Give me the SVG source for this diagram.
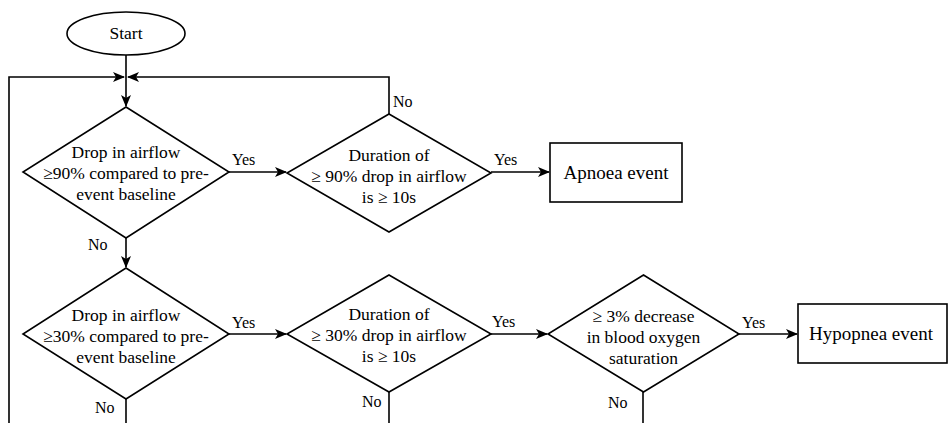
<svg xmlns="http://www.w3.org/2000/svg" width="948" height="423" viewBox="0 0 948 423">
  <defs>
    <marker id="arrow" viewBox="0 0 12 10" refX="11" refY="5" markerWidth="12" markerHeight="10" markerUnits="userSpaceOnUse" orient="auto">
      <path d="M0,0 L12,5 L0,10 L3,5 z" fill="#000000"/>
    </marker>
  </defs>

  <rect width="948" height="423" fill="#ffffff"/>

  <!-- connectors and their Yes/No labels -->
  <g id="connectors" fill="none" stroke="#000000" stroke-width="1.6">
    <path d="M126,55 L126,106" marker-end="url(#arrow)"/>
    <path d="M9,423 L9,77 L124,77" marker-end="url(#arrow)"/>
    <path d="M389,114 L389,77 L128,77" marker-end="url(#arrow)"/>
    <path d="M229,172 L286,172" marker-end="url(#arrow)"/>
    <path d="M491,172 L549,172" marker-end="url(#arrow)"/>
    <path d="M126,238 L126,267" marker-end="url(#arrow)"/>
    <path d="M126,399 L126,423"/>
    <path d="M229,334 L286,334" marker-end="url(#arrow)"/>
    <path d="M389,392 L389,423"/>
    <path d="M491,334 L547,334" marker-end="url(#arrow)"/>
    <path d="M643,392 L643,423"/>
    <path d="M739,334 L797,334" marker-end="url(#arrow)"/>
  </g>
  <g id="connector-labels" fill="#000000" font-size="16">
    <text font-family="Liberation Serif" x="232" y="165">Yes</text>
    <text font-family="Liberation Serif" x="494" y="165">Yes</text>
    <text font-family="Liberation Serif" x="393" y="107">No</text>
    <text font-family="Liberation Serif" x="88" y="250">No</text>
    <text font-family="Liberation Serif" x="232" y="328">Yes</text>
    <text font-family="Liberation Serif" x="492" y="327">Yes</text>
    <text font-family="Liberation Serif" x="742" y="328">Yes</text>
    <text font-family="Liberation Serif" x="95" y="413">No</text>
    <text font-family="Liberation Serif" x="362" y="407">No</text>
    <text font-family="Liberation Serif" x="608" y="408">No</text>
  </g>

  <!-- flowchart nodes -->
  <g fill="#ffffff" stroke="#000000" stroke-width="1.6" font-size="17.5" text-anchor="middle">
    <g id="start">
      <ellipse cx="126" cy="33.5" rx="59" ry="21.5"/>
      <text font-family="Liberation Serif" fill="#000000" stroke="none" x="126" y="39">Start</text>
    </g>

    <g id="drop90">
      <polygon points="126,107 229,172 126,238 23,172"/>
      <g fill="#000000" stroke="none">
        <text font-family="Liberation Serif" x="126" y="158">Drop in airflow</text>
        <text font-family="Liberation Serif" x="126" y="179">&#8805;90% compared to pre-</text>
        <text font-family="Liberation Serif" x="126" y="200">event baseline</text>
      </g>
    </g>

    <g id="duration90">
      <polygon points="389,114 491,173 389,232 287,173"/>
      <g fill="#000000" stroke="none">
        <text font-family="Liberation Serif" x="389" y="161">Duration of</text>
        <text font-family="Liberation Serif" x="389" y="182">&#8805; 90% drop in airflow</text>
        <text font-family="Liberation Serif" x="389" y="203">is &#8805; 10s</text>
      </g>
    </g>

    <g id="apnoea">
      <rect x="550" y="143" width="132" height="59"/>
      <text font-family="Liberation Serif" fill="#000000" stroke="none" font-size="19" x="616" y="179">Apnoea event</text>
    </g>

    <g id="drop30">
      <polygon points="126,268 229,334 126,399 23,334"/>
      <g fill="#000000" stroke="none">
        <text font-family="Liberation Serif" x="126" y="321">Drop in airflow</text>
        <text font-family="Liberation Serif" x="126" y="342">&#8805;30% compared to pre-</text>
        <text font-family="Liberation Serif" x="126" y="363">event baseline</text>
      </g>
    </g>

    <g id="duration30">
      <polygon points="389,275 491,334 389,392 287,334"/>
      <g fill="#000000" stroke="none">
        <text font-family="Liberation Serif" x="389" y="320">Duration of</text>
        <text font-family="Liberation Serif" x="389" y="341">&#8805; 30% drop in airflow</text>
        <text font-family="Liberation Serif" x="389" y="362">is &#8805; 10s</text>
      </g>
    </g>

    <g id="oxygen">
      <polygon points="643.5,275 739,334 643.5,392 548,334"/>
      <g fill="#000000" stroke="none">
        <text font-family="Liberation Serif" x="643.5" y="322">&#8805; 3% decrease</text>
        <text font-family="Liberation Serif" x="643.5" y="343">in blood oxygen</text>
        <text font-family="Liberation Serif" x="643.5" y="364">saturation</text>
      </g>
    </g>

    <g id="hypopnea">
      <rect x="798" y="304" width="149" height="59"/>
      <text font-family="Liberation Serif" fill="#000000" stroke="none" font-size="19" x="871" y="340">Hypopnea event</text>
    </g>
  </g>
</svg>
